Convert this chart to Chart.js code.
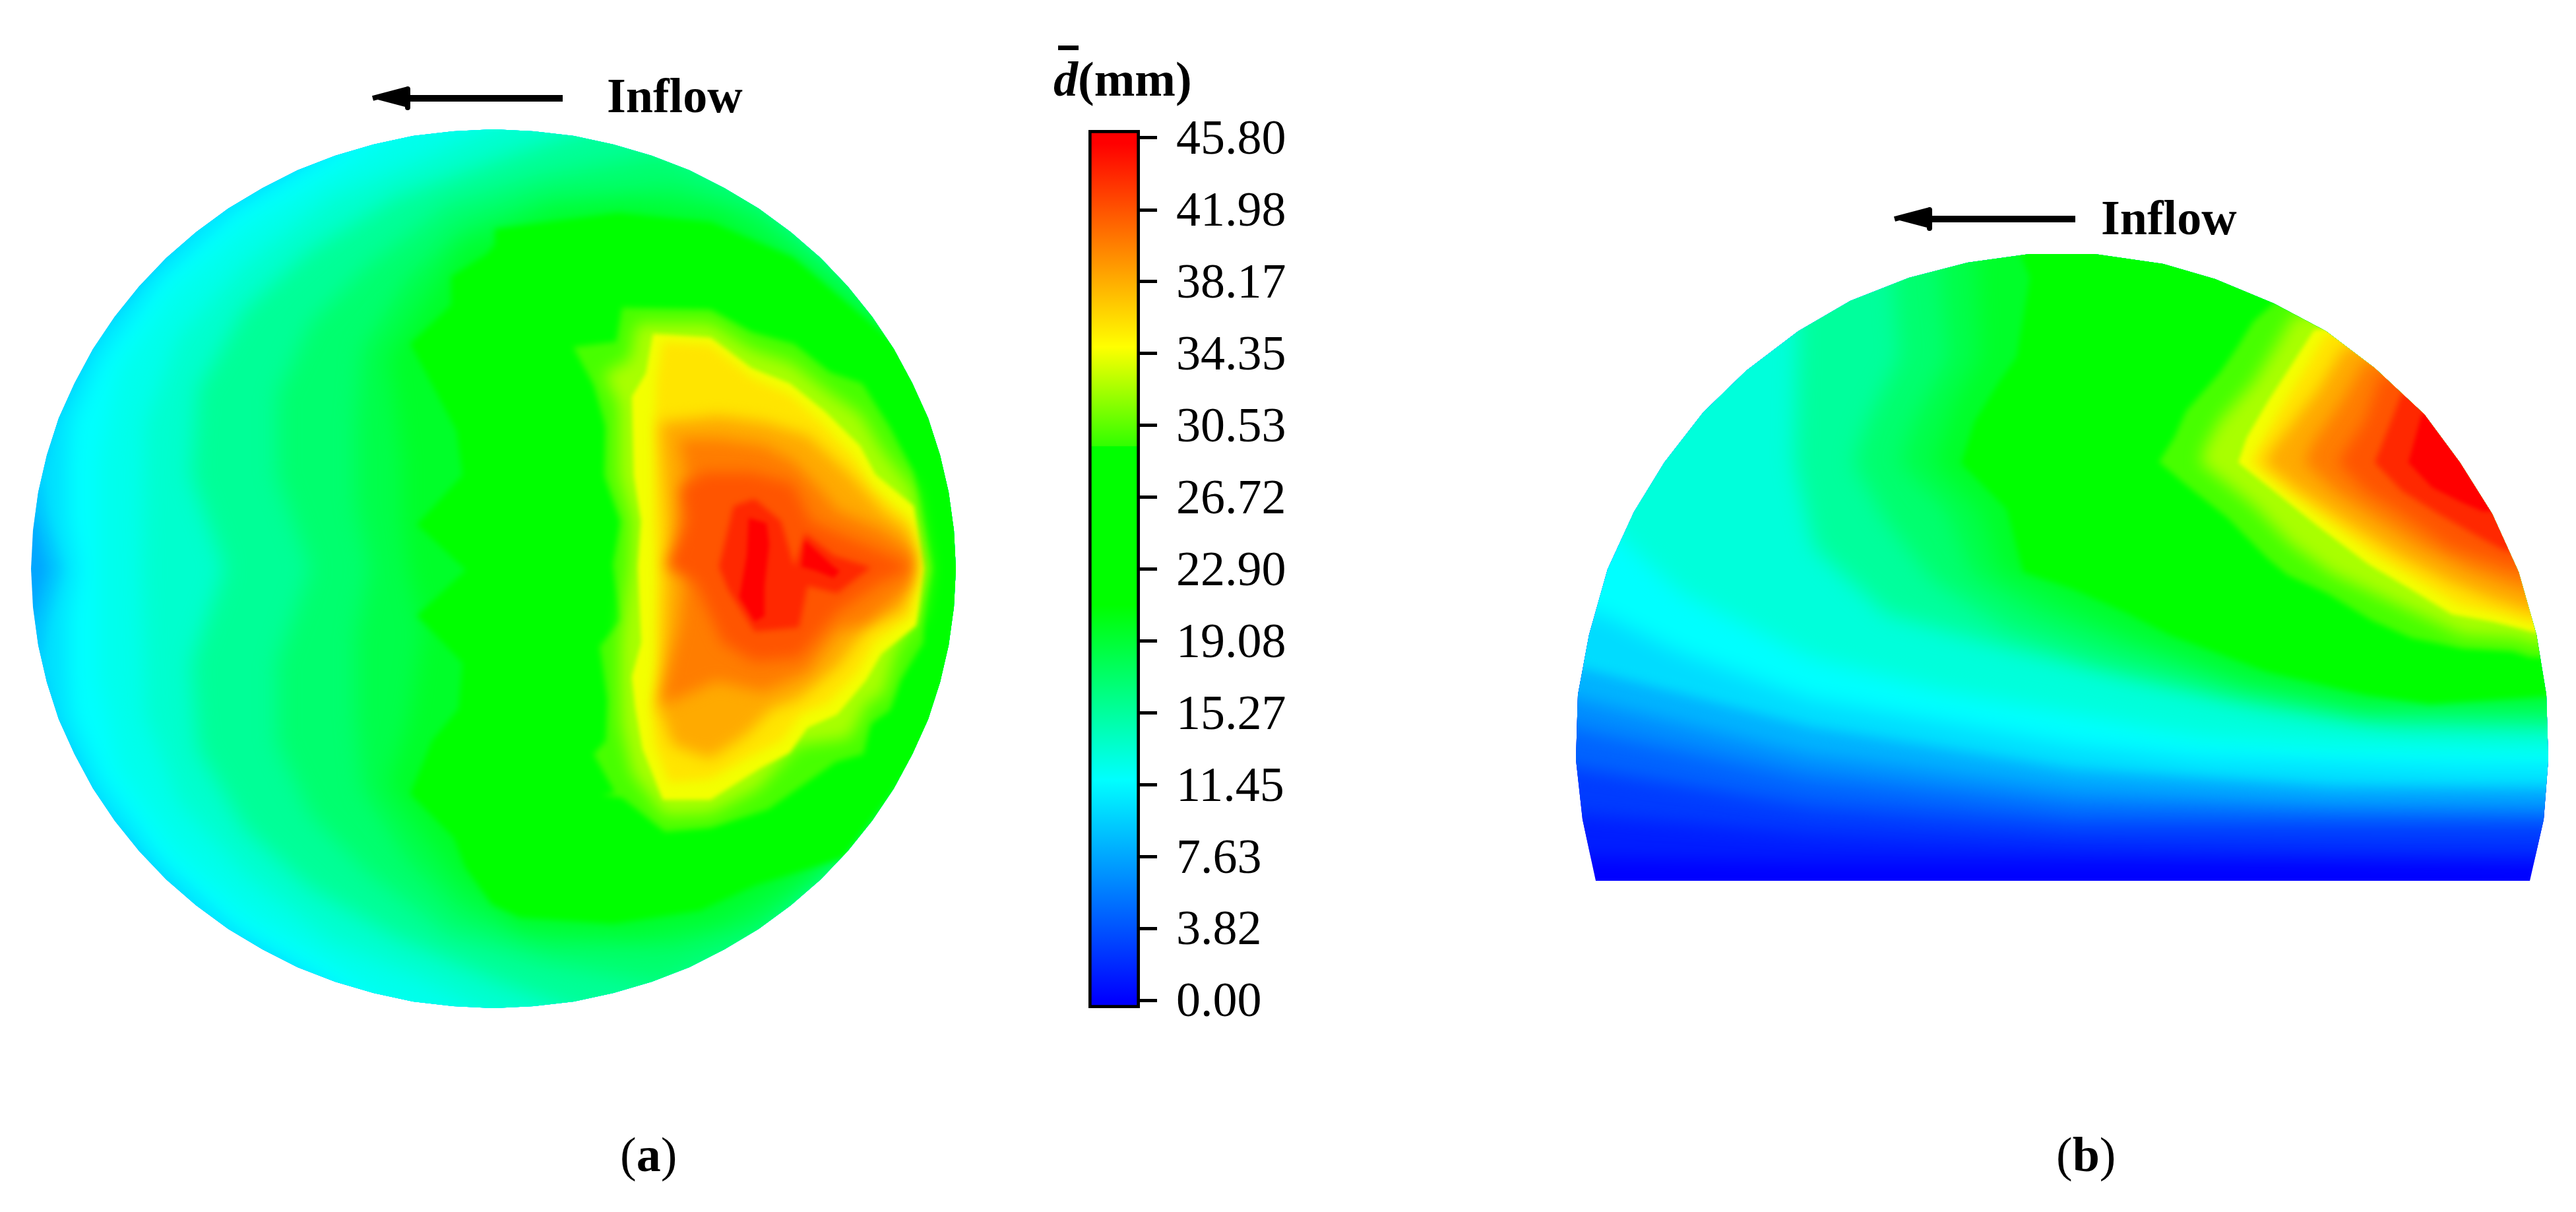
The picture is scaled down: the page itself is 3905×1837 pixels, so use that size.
<!DOCTYPE html>
<html>
<head>
<meta charset="utf-8">
<title>Mean scour depth</title>
<script src="https://cdn.jsdelivr.net/npm/chart.js@4"></script>
<style>
  html, body { margin: 0; padding: 0; background: #fff; }
  body { position: relative; width: 3905px; height: 1837px; overflow: hidden; }
  canvas { position: absolute; }
  .txt { position: absolute; font: 74px/74px 'Liberation Serif', serif; color: #000; white-space: nowrap; }
  .txt b { font-weight: bold; }
  #overbar { position: absolute; left: 1604px; top: 69px; width: 31px; height: 7px; background: #000; }
</style>
</head>
<body>
<canvas id="discChart" width="1500" height="1540" style="left:0;top:100px"></canvas>
<canvas id="halfChart" width="1605" height="1065" style="left:2300px;top:290px"></canvas>
<canvas id="barChart" width="360" height="1420" style="left:1640px;top:150px"></canvas>
<canvas id="arrowA" width="340" height="80" style="left:540px;top:110px"></canvas>
<canvas id="arrowB" width="320" height="80" style="left:2850px;top:293px"></canvas>
<div class="txt" style="left:920px;top:108px"><b>Inflow</b></div>
<div class="txt" style="left:3185px;top:293px"><b>Inflow</b></div>
<div class="txt" style="left:1597px;top:83px"><b><i>d</i>(mm)</b></div>
<div id="overbar"></div>
<div class="txt" style="left:940px;top:1713px">(<b>a</b>)</div>
<div class="txt" style="left:3117px;top:1713px">(<b>b</b>)</div>
<script>
// colour bar
const tickLabels = ['0.00', '3.82', '7.63', '11.45', '15.27', '19.08', '22.90', '26.72', '30.53', '34.35', '38.17', '41.98', '45.80'];
const colorValues = [0, 11.7, 21, 29.4, 29.45, 34.7, 45.5, 46.3];
const colorStops = [[0, 0, 255], [0, 255, 255], [0, 255, 0], [0, 255, 0], [50, 255, 0], [255, 255, 0], [255, 0, 0], [255, 0, 0]];

// (a) section outline, in reference section coordinates
const discOutline = [[748,196],[809,199],[870,206],[930,219],[988,236],[1045,258],[1098,285],[1150,316],[1199,352],[1244,391],[1285,434],[1322,480],[1355,529],[1383,581],[1407,634],[1425,690],[1438,746],[1446,804],[1449,862],
  [1446,920],[1438,978],[1425,1034],[1407,1090],[1383,1143],[1355,1195],[1322,1244],[1285,1290],[1244,1333],[1199,1372],[1150,1408],[1098,1439],[1045,1466],[988,1488],[930,1505],[870,1518],[809,1525],[748,1528],
  [687,1525],[626,1518],[566,1505],[508,1488],[451,1466],[398,1439],[346,1408],[297,1372],[252,1333],[211,1290],[174,1244],[141,1195],[113,1143],[89,1090],[71,1034],[58,978],[50,920],[47,862],
  [50,804],[58,746],[71,690],[89,634],[113,581],[141,529],[174,480],[211,434],[252,391],[297,352],[346,316],[398,285],[451,258],[508,236],[566,219],[626,206],[687,199]];

// (a) contours, lowest level first
const discBase = [[-20,90],[1520,90],[1520,1650],[-20,1650]];
const discC90 = [[72,862],[52,790],[35,760],[35,120],[1495,120],[1495,1620],[35,1620],[35,960],[52,930]];
const discC102 = [[95,862],[70,780],[60,720],[80,640],[150,500],[300,330],[500,220],[600,120],[1495,120],[1495,1620],[600,1620],[500,1505],[300,1395],[150,1225],[80,1085],[60,1005],[70,945]];
const discC117 = [[115,862],[100,790],[100,710],[105,640],[150,540],[240,420],[350,320],[500,230],[680,120],[1495,120],[1495,1620],[680,1620],[500,1495],[350,1405],[240,1305],[150,1185],[105,1085],[100,1015],[100,935]];
const discC124 = [[150,862],[150,700],[180,560],[260,440],[370,340],[510,255],[720,120],[1495,120],[1495,1620],[720,1620],[510,1470],[370,1385],[260,1285],[180,1165],[150,1025]];
const discC135 = [[215,862],[220,640],[270,510],[370,400],[500,300],[640,240],[900,120],[1495,120],[1495,1620],[900,1620],[640,1485],[500,1425],[370,1325],[270,1215],[220,1085]];
const discC155 = [[340,862],[290,720],[300,590],[370,470],[470,380],[600,300],[760,240],[1100,120],[1495,120],[1495,1620],[1100,1620],[760,1490],[600,1420],[470,1345],[370,1255],[300,1135],[290,1005]];
const discC170 = [[470,862],[420,720],[420,600],[470,490],[560,400],[680,310],[830,265],[1000,232],[1130,285],[1250,395],[1495,500],[1495,1230],[1250,1330],[1130,1440],[1000,1493],[830,1460],[680,1415],[560,1325],[470,1235],[420,1125],[420,1005]];
const discC183 = [[560,862],[540,760],[540,640],[550,530],[620,420],[700,345],[830,300],[1020,285],[1150,325],[1290,440],[1495,560],[1495,1160],[1290,1285],[1150,1400],[1020,1435],[830,1430],[700,1385],[620,1305],[550,1195],[540,1085],[540,965]];
const discC195 = [[620,862],[610,790],[610,700],[590,540],[650,450],[700,375],[840,320],[960,310],[1090,325],[1220,405],[1370,525],[1495,620],[1495,1100],[1370,1200],[1220,1325],[1090,1395],[960,1415],[790,1405],[700,1340],[640,1260],[590,1190],[620,1090],[640,960]];
const discGreen = [[750,347],[937,323],[1078,337],[1202,390],[1349,515],[1400,590],[1495,862],[1400,1130],[1349,1204],[1278,1300],[1144,1342],[1061,1380],[929,1400],[788,1390],[746,1371],[705,1314],[688,1270],[622,1203],[655,1122],[695,1074],[701,1005],[632,933],[706,864],[632,795],[701,720],[692,653],[622,521],[684,462],[684,419],[738,385],[750,371]];
const discHot300 = [[943,466],[1077,469],[1139,503],[1204,521],[1258,564],[1307,581],[1349,647],[1385,716],[1412,862],[1400,917],[1400,974],[1365,1031],[1349,1077],[1320,1097],[1309,1143],[1267,1155],[1164,1227],[1077,1255],[1008,1261],[943,1209],[912,1205],[932,1201],[900,1143],[918,1123],[921,1060],[909,980],[941,940],[929,856],[941,790],[916,721],[918,647],[900,584],[869,526],[934,518]];
const discHot325 = [[965,490],[1077,490],[1139,530],[1200,550],[1255,594],[1305,628],[1338,683],[1385,742],[1406,862],[1395,932],[1360,983],[1339,1054],[1316,1064],[1288,1119],[1210,1129],[1150,1195],[1077,1233],[1007,1236],[958,1172],[942,1100],[940,1040],[940,975],[954,857],[957,790],[938,721],[938,615],[915,566],[955,545]];
const discHot347 = [[990,506],[1077,512],[1139,558],[1197,581],[1251,624],[1304,676],[1327,719],[1385,767],[1400,862],[1389,948],[1336,991],[1313,1031],[1269,1083],[1224,1103],[1197,1141],[1153,1164],[1077,1212],[1005,1212],[974,1135],[963,1072],[958,1026],[972,974],[967,859],[972,790],[961,721],[958,601],[979,566]];
const discHot362 = [[1005,518],[1077,523],[1139,572],[1197,598],[1246,641],[1295,693],[1322,739],[1376,785],[1389,862],[1380,934],[1327,974],[1300,1020],[1255,1066],[1215,1083],[1184,1123],[1139,1146],[1077,1181],[1014,1186],[992,1129],[988,1072],[996,1003],[996,859],[992,790],[992,721],[992,641],[996,572]];
const discHot383 = [[1000,640],[1090,630],[1160,640],[1225,660],[1290,720],[1340,775],[1380,805],[1385,862],[1370,925],[1315,950],[1270,1010],[1210,1060],[1170,1075],[1130,1115],[1077,1150],[1020,1130],[1000,1075],[1005,1000],[1010,860],[1010,790]];
const discHot402 = [[1030,665],[1090,665],[1157,675],[1202,698],[1246,744],[1269,773],[1336,802],[1385,836],[1380,888],[1313,945],[1269,957],[1224,1020],[1157,1049],[1086,1032],[1050,1049],[1000,1070],[1030,950],[1040,860],[1030,790],[1040,720]];
const discHot419 = [[1068,716],[1139,716],[1202,733],[1229,790],[1269,808],[1336,836],[1385,860],[1336,882],[1269,928],[1211,997],[1144,1003],[1095,974],[1054,882],[1010,859],[1041,790],[1032,739]];
const discHot438 = [[1112,767],[1144,756],[1184,790],[1204,859],[1220,808],[1264,842],[1320,860],[1269,899],[1224,888],[1211,951],[1144,957],[1104,894],[1090,859]];
const discRedA = [[1135,785],[1162,793],[1166,825],[1159,888],[1159,934],[1144,942],[1121,905],[1132,842]];
const discRedB = [[1220,819],[1264,859],[1273,865],[1264,876],[1237,865],[1215,859]];
const discLevels = [7.6, 9.0, 10.2, 11.7, 12.4, 13.5, 15.5, 17.0, 18.3, 19.5, 25, 30.0, 32.5, 34.4, 35.8, 38.3, 40.2, 41.9, 43.8, 45.5, 45.5];
const discContours = [discBase, discC90, discC102, discC117, discC124, discC135, discC155, discC170, discC183, discC195, discGreen, discHot300, discHot325, discHot347, discHot362, discHot383, discHot402, discHot419, discHot438, discRedA, discRedB];

// (b) section outline
const halfOutline = [[2419,1335],[2399,1242],[2389,1151],[2392,1053],[2409,962],[2437,863],[2477,776],[2523,701],[2582,625],[2647,562],[2726,502],[2805,456],[2894,421],[2983,398],[3077,385],[3175,385],[3279,400],[3358,423],[3447,460],[3526,502],[3600,558],[3675,628],[3729,701],[3778,779],[3818,867],[3845,962],[3860,1053],[3863,1151],[3856,1242],[3835,1335]];

// (b) contours, lowest level first
const halfBase = [[2290,280],[3960,280],[3960,1370],[2290,1370]];
const halfC14 = [[2310,1299],[2745,1306],[3141,1306],[3536,1306],[3950,1309],[3950,310],[2310,310]];
const halfC28 = [[2310,1228],[2745,1263],[3141,1278],[3536,1285],[3950,1288],[3950,310],[2310,310]];
const halfC46 = [[2310,1151],[2745,1221],[3141,1249],[3536,1249],[3950,1249],[3950,310],[2310,310]];
const halfC64 = [[2310,1088],[2745,1179],[3141,1221],[3536,1228],[3950,1232],[3950,310],[2310,310]];
const halfC83 = [[2310,1039],[2745,1144],[3141,1193],[3536,1211],[3950,1214],[3950,310],[2310,310]];
const halfC101 = [[2310,990],[2745,1102],[3141,1165],[3536,1190],[3950,1193],[3950,310],[2310,310]];
const halfC117 = [[2310,900],[2434,934],[2548,990],[2745,1060],[2943,1095],[3140,1130],[3338,1151],[3536,1158],[3734,1165],[3950,1165],[3950,310],[2310,310]];
const halfC130 = [[2310,700],[2440,800],[2550,900],[2745,997],[2943,1046],[3141,1081],[3338,1116],[3536,1130],[3950,1137],[3950,310],[2310,310]];
const halfC153 = [[2700,310],[2726,502],[2720,700],[2750,830],[2860,930],[3042,983],[3240,1032],[3437,1074],[3636,1102],[3950,1109],[3950,310]];
const halfC170 = [[2860,310],[2880,541],[2830,640],[2810,702],[2860,790],[2930,880],[3040,950],[3180,1000],[3380,1050],[3586,1085],[3950,1090],[3950,310]];
const halfC183 = [[2930,310],[2953,541],[2900,640],[2880,702],[2950,772],[2990,870],[3090,930],[3210,975],[3400,1035],[3586,1072],[3950,1075],[3950,310]];
const halfC195 = [[2993,310],[3002,541],[2963,611],[2933,702],[3002,772],[3032,863],[3131,913],[3240,962],[3408,1025],[3586,1060],[3950,1060],[3950,310]];
const halfGreen = [[3032,310],[3077,421],[3057,541],[3032,576],[2993,639],[2973,702],[3042,772],[3067,867],[3141,892],[3220,927],[3289,962],[3437,1018],[3586,1053],[3684,1067],[3950,1049],[3950,310]];
const halfHot300 = [[3452,455],[3416,487],[3391,527],[3365,565],[3314,623],[3296,663],[3273,700],[3314,735],[3376,784],[3437,846],[3467,871],[3529,900],[3595,940],[3656,967],[3733,983],[3809,987],[3835,996],[3950,998],[3950,440]];
const halfHot325 = [[3478,476],[3447,529],[3416,579],[3365,637],[3345,672],[3335,701],[3416,766],[3472,824],[3534,869],[3610,905],[3677,936],[3733,962],[3814,967],[3842,976],[3950,980],[3950,450]];
const halfHot347 = [[3508,500],[3472,556],[3437,610],[3406,663],[3393,701],[3447,744],[3513,797],[3590,855],[3651,891],[3717,931],[3779,942],[3842,958],[3950,960],[3950,470]];
const halfHot362 = [[3526,505],[3493,561],[3457,619],[3427,672],[3411,701],[3467,744],[3534,793],[3600,842],[3661,878],[3728,918],[3789,931],[3840,945],[3950,945],[3950,480]];
const halfHot383 = [[3554,525],[3513,592],[3478,637],[3447,677],[3432,701],[3478,739],[3559,793],[3636,842],[3712,882],[3779,909],[3835,927],[3950,930],[3950,490]];
const halfHot402 = [[3585,547],[3549,610],[3508,668],[3493,701],[3539,744],[3600,784],[3671,829],[3743,864],[3819,891],[3950,910],[3950,500]];
const halfHot419 = [[3610,567],[3585,637],[3559,677],[3544,701],[3585,744],[3641,779],[3712,829],[3804,860],[3950,880],[3950,520]];
const halfHot438 = [[3641,596],[3615,663],[3600,701],[3641,744],[3697,779],[3753,811],[3794,833],[3950,860],[3950,540]];
const halfRed = [[3671,628],[3651,701],[3687,739],[3733,762],[3763,775],[3950,775],[3950,600]];
const halfLevels = [0, 1.38, 2.75, 4.59, 6.42, 8.26, 10.09, 11.7, 13.0, 15.3, 17.0, 18.3, 19.5, 25, 30.0, 32.5, 34.4, 35.8, 38.3, 40.2, 41.9, 43.8, 45.5];
const halfContours = [halfBase, halfC14, halfC28, halfC46, halfC64, halfC83, halfC101, halfC117, halfC130, halfC153, halfC170, halfC183, halfC195, halfGreen, halfHot300, halfHot325, halfHot347, halfHot362, halfHot383, halfHot402, halfHot419, halfHot438, halfRed];

// inflow arrows
const arrowShaftA = [[853,149],[615,149]];
const arrowHeadA = [[565,149],[618,135],[618,163]];
const arrowShaftB = [[3146,332],[2920,332]];
const arrowHeadB = [[2872,332],[2925,318],[2925,346]];

function levelColor(v) {
  for (let i = 1; i < colorValues.length; i++) {
    if (v <= colorValues[i]) {
      const t = (v - colorValues[i - 1]) / (colorValues[i] - colorValues[i - 1]);
      const c = colorStops[i - 1].map((a, k) => Math.round(a + (colorStops[i][k] - a) * t));
      return `rgb(${c[0]},${c[1]},${c[2]})`;
    }
  }
  return 'rgb(255,0,0)';
}

// softening per level: wide ramps get a lot, the yellow ridge very little
function levelBlur(v) {
  if (v < 8.5) return 14;
  if (v < 11) return 9;
  if (v < 21) return 16;
  if (v < 31) return 5;
  if (v < 34) return 12;
  if (v < 35) return 3;
  if (v < 37) return 8;
  if (v < 43) return 11;
  if (v < 45) return 5;
  return 3;
}

const toPoints = list => list.map(p => ({ x: p[0], y: p[1] }));

// contours keep to the section outline, filter for the next contour is set after each draw
const outlineClip = {
  id: 'outlineClip',
  beforeDatasetsDraw(chart, args, opts) {
    const { ctx, scales } = chart;
    ctx.save();
    ctx.beginPath();
    opts.outline.forEach((p, i) => {
      const px = scales.x.getPixelForValue(p[0]);
      const py = scales.y.getPixelForValue(p[1]);
      if (i === 0) ctx.moveTo(px, py);
      else ctx.lineTo(px, py);
    });
    ctx.closePath();
    ctx.clip();
  },
  afterDatasetDraw(chart, args, opts) {
    const next = opts.levels[args.index + 1];
    if (next !== undefined) chart.ctx.filter = `blur(${levelBlur(next)}px)`;
  },
  afterDatasetsDraw(chart) {
    chart.ctx.restore();
  }
};

function sectionOptions(xMin, xMax, yMin, yMax) {
  return {
    responsive: false,
    animation: false,
    devicePixelRatio: 1,
    layout: { padding: 0 },
    elements: { point: { radius: 0 }, line: { tension: 0 } },
    plugins: { legend: { display: false }, tooltip: { enabled: false } },
    scales: {
      x: { type: 'linear', display: false, min: xMin, max: xMax },
      y: { type: 'linear', display: false, min: yMin, max: yMax, reverse: true }
    }
  };
}

function makeSection(id, contours, levels, outline, xMin, xMax, yMin, yMax) {
  const options = sectionOptions(xMin, xMax, yMin, yMax);
  options.plugins.outlineClip = { outline: outline, levels: levels };
  return new Chart(document.getElementById(id), {
    type: 'scatter',
    plugins: [outlineClip],
    data: {
      datasets: contours.map((c, i) => ({
        data: toPoints(c),
        showLine: true,
        fill: 'shape',
        borderWidth: 0,
        backgroundColor: levelColor(levels[i]),
        order: contours.length - i
      }))
    },
    options: options
  });
}

function makeArrow(id, shaft, head, xMin, xMax, yMin, yMax) {
  return new Chart(document.getElementById(id), {
    type: 'scatter',
    data: {
      datasets: [
        { data: toPoints(shaft), showLine: true, borderColor: '#000', borderWidth: 10, borderCapStyle: 'butt' },
        { data: toPoints(head), showLine: true, fill: 'shape', backgroundColor: '#000', borderColor: '#000', borderWidth: 8, borderJoinStyle: 'round' }
      ]
    },
    options: sectionOptions(xMin, xMax, yMin, yMax)
  });
}

makeSection('discChart', discContours, discLevels, discOutline, 0, 1500, 100, 1640);
makeSection('halfChart', halfContours, halfLevels, halfOutline, 2300, 3905, 290, 1355);
makeArrow('arrowA', arrowShaftA, arrowHeadA, 540, 880, 110, 190);
makeArrow('arrowB', arrowShaftB, arrowHeadB, 2850, 3170, 293, 373);

const tickValues = tickLabels.map(parseFloat);
const barMin = -0.42;
const barMax = 46.22;

new Chart(document.getElementById('barChart'), {
  type: 'bar',
  data: {
    labels: ['d'],
    datasets: [{
      data: [[barMin, barMax]],
      barPercentage: 1,
      categoryPercentage: 1,
      borderColor: '#000',
      borderWidth: 5,
      borderSkipped: false,
      backgroundColor(context) {
        const { chart } = context;
        if (!chart.chartArea) return '#000';
        const y = chart.scales.y;
        const grad = chart.ctx.createLinearGradient(0, y.getPixelForValue(barMin), 0, y.getPixelForValue(barMax));
        colorValues.forEach((v, i) => {
          const c = colorStops[i];
          const pos = Math.min(1, Math.max(0, (v - barMin) / (barMax - barMin)));
          grad.addColorStop(pos, `rgb(${c[0]},${c[1]},${c[2]})`);
        });
        return grad;
      }
    }]
  },
  options: {
    responsive: false,
    animation: false,
    devicePixelRatio: 1,
    layout: { padding: { left: 10, top: 47, bottom: 42, right: 0 } },
    plugins: { legend: { display: false }, tooltip: { enabled: false } },
    scales: {
      x: { display: false },
      y: {
        position: 'right',
        min: barMin,
        max: barMax,
        afterBuildTicks(axis) {
          axis.ticks = tickValues.map(v => ({ value: v }));
        },
        afterFit(axis) {
          // keep the bar frame where it is, tick labels may hang over its ends
          axis.width = 272;
          axis.paddingTop = 0;
          axis.paddingBottom = 0;
        },
        afterUpdate(axis) {
          // serif digits sit high on the middle baseline, centre them on the tick
          const getItems = axis.getLabelItems;
          axis.getLabelItems = function (area) {
            const items = getItems.call(this, area);
            items.forEach(item => {
              if (!item.moved) {
                item.textOffset += 5;
                item.moved = true;
              }
            });
            return items;
          };
        },
        border: { display: false },
        grid: { drawOnChartArea: false, tickLength: 26, tickWidth: 5, tickColor: '#000' },
        ticks: {
          autoSkip: false,
          maxRotation: 0,
          padding: 29,
          color: '#000',
          font: { family: "'Liberation Serif'", size: 74 },
          callback: (value, index) => tickLabels[index]
        }
      }
    }
  }
});
</script>
</body>
</html>
